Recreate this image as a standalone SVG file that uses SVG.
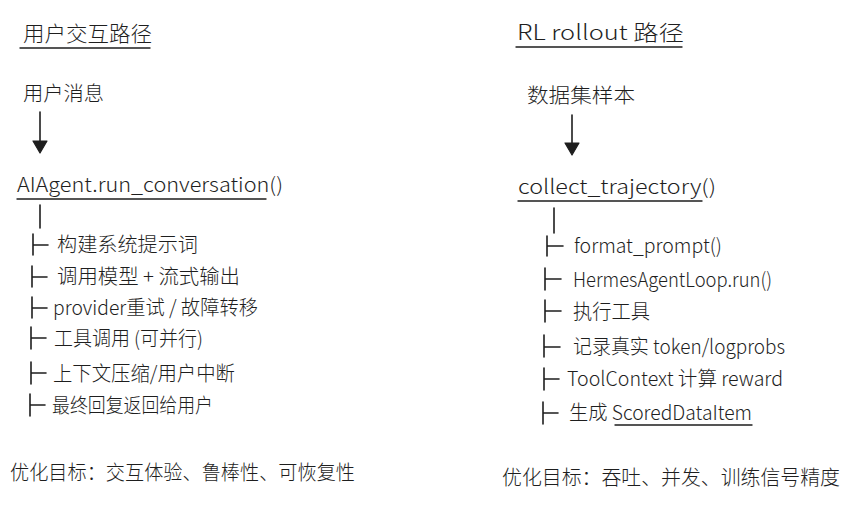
<svg xmlns="http://www.w3.org/2000/svg" width="859" height="505" viewBox="0 0 859 505">
<style>
text{font-family:"Noto Sans CJK SC","Noto Sans",sans-serif;font-size:20px;font-weight:300;fill:#1e1e1e}
.t{font-size:21px}
.ln{stroke:#1e1e1e;stroke-width:1.6;fill:none;stroke-linecap:round}
.ul{stroke:#1e1e1e;stroke-width:1.4;fill:none;stroke-linecap:round}
.ah{fill:#1e1e1e;stroke:#1e1e1e;stroke-width:1.2;stroke-linejoin:round}
</style>
<rect width="859" height="505" fill="#ffffff"/>
<g id="left-title"><text class="t" x="23" y="41" textLength="129" lengthAdjust="spacingAndGlyphs">用户交互路径</text><path class="ul" d="M20 48 L150 48"/></g>
<g id="left-start"><text x="23" y="101" textLength="81" lengthAdjust="spacingAndGlyphs">用户消息</text></g>
<g id="left-main"><text x="17" y="192" textLength="266" lengthAdjust="spacingAndGlyphs">AIAgent.run_conversation()</text><path class="ul" d="M17 199 L266 199"/></g>
<g id="left-item1"><text x="57" y="252" textLength="141" lengthAdjust="spacingAndGlyphs">构建系统提示词</text></g>
<g id="left-item2"><text x="57" y="284" textLength="183" lengthAdjust="spacingAndGlyphs">调用模型 + 流式输出</text></g>
<g id="left-item3"><text x="53" y="315" textLength="205" lengthAdjust="spacingAndGlyphs">provider重试 / 故障转移</text></g>
<g id="left-item4"><text x="54" y="346" textLength="149" lengthAdjust="spacingAndGlyphs">工具调用 (可并行)</text></g>
<g id="left-item5"><text x="53" y="381" textLength="182" lengthAdjust="spacingAndGlyphs">上下文压缩/用户中断</text></g>
<g id="left-item6"><text x="52" y="413" textLength="161" lengthAdjust="spacingAndGlyphs">最终回复返回给用户</text></g>
<g id="left-goal"><text x="10" y="480" textLength="345" lengthAdjust="spacingAndGlyphs">优化目标：交互体验、鲁棒性、可恢复性</text></g>

<g id="right-title"><text class="t" x="517" y="40" textLength="167" lengthAdjust="spacingAndGlyphs">RL rollout 路径</text><path class="ul" d="M516 47 L682 47"/></g>
<g id="right-start"><text x="527" y="103" textLength="108" lengthAdjust="spacingAndGlyphs">数据集样本</text></g>
<g id="right-main"><text x="518" y="194" textLength="198" lengthAdjust="spacingAndGlyphs">collect_trajectory()</text><path class="ul" d="M518 201 L702 201"/></g>
<g id="right-item1"><text x="574" y="253" textLength="148" lengthAdjust="spacingAndGlyphs">format_prompt()</text></g>
<g id="right-item2"><text x="573" y="287" textLength="199" lengthAdjust="spacingAndGlyphs">HermesAgentLoop.run()</text></g>
<g id="right-item3"><text x="573" y="319" textLength="77" lengthAdjust="spacingAndGlyphs">执行工具</text></g>
<g id="right-item4"><text x="573" y="354" textLength="212" lengthAdjust="spacingAndGlyphs">记录真实 token/logprobs</text></g>
<g id="right-item5"><text x="567" y="386" textLength="216" lengthAdjust="spacingAndGlyphs">ToolContext 计算 reward</text></g>
<g id="right-item6"><text x="569" y="420" textLength="183" lengthAdjust="spacingAndGlyphs">生成 ScoredDataItem</text><path class="ul" d="M615 425 L752 425"/></g>
<g id="right-goal"><text x="502" y="485" textLength="338" lengthAdjust="spacingAndGlyphs">优化目标：吞吐、并发、训练信号精度</text></g>

<g id="connectors">
<path class="ln" d="M40 112 L40 146"/>
<path class="ah" d="M33 141 L47 141 L40 153 Z"/>
<path class="ln" d="M572 115 L572 149"/>
<path class="ah" d="M565 143 L579 143 L572 155 Z"/>
<path class="ln" d="M40 205 L40 228"/>
<path class="ln" d="M33 234 L33 255 M33 245 L48 245"/>
<path class="ln" d="M32 266 L32 287 M32 277 L47 277"/>
<path class="ln" d="M32 297 L32 318 M32 308 L47 308"/>
<path class="ln" d="M31 327 L31 349 M31 338 L46 338"/>
<path class="ln" d="M31 362 L31 384 M31 373 L46 373"/>
<path class="ln" d="M30 394 L30 416 M30 405 L45 405"/>
<path class="ln" d="M554 208 L554 233"/>
<path class="ln" d="M547 236 L547 256 M547 246 L563 246"/>
<path class="ln" d="M545 268 L545 290 M545 279 L561 279"/>
<path class="ln" d="M545 300 L545 322 M545 311 L561 311"/>
<path class="ln" d="M544 335 L544 357 M544 347 L560 347"/>
<path class="ln" d="M544 368 L544 390 M544 379 L559 379"/>
<path class="ln" d="M543 402 L543 424 M543 413 L558 413"/>
</g>
</svg>
